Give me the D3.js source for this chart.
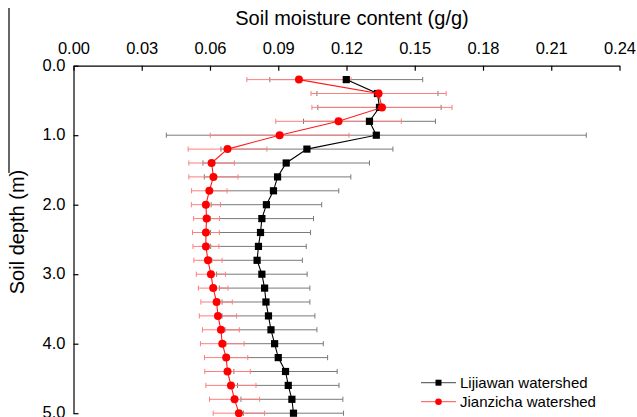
<!DOCTYPE html>
<html>
<head>
<meta charset="utf-8">
<script src="https://cdn.jsdelivr.net/npm/d3@7"></script>
<style>
  html, body { margin: 0; padding: 0; background: #fff; }
  svg { display: block; font-family: Arial, "Liberation Sans", sans-serif; }
</style>
</head>
<body>
<svg id="chart" width="637" height="417"></svg>
<script>
// ---- data ----
const depths = [0.2,0.4,0.6,0.8,1.0,1.2,1.4,1.6,1.8,2.0,2.2,2.4,2.6,2.8,3.0,3.2,3.4,3.6,3.8,4.0,4.2,4.4,4.6,4.8,5.0];
const lijiawanMean = [0.1199,0.1336,0.1345,0.1301,0.1331,0.1026,0.0935,0.0897,0.0879,0.0848,0.0828,0.0822,0.0813,0.0807,0.0828,0.0840,0.0846,0.0857,0.0868,0.0884,0.0900,0.0932,0.0944,0.0960,0.0967];
const lijiawanSD   = [0.0336,0.0266,0.0271,0.0290,0.0923,0.0378,0.0366,0.0322,0.0287,0.0243,0.0227,0.0220,0.0210,0.0199,0.0199,0.0199,0.0193,0.0204,0.0202,0.0214,0.0217,0.0227,0.0223,0.0224,0.0220];
const jianzichaMean = [0.0991,0.1341,0.1356,0.1165,0.0906,0.0677,0.0607,0.0615,0.0597,0.0582,0.0585,0.0582,0.0582,0.0591,0.0604,0.0614,0.0629,0.0635,0.0648,0.0654,0.0671,0.0677,0.0692,0.0708,0.0727];
const jianzichaSD   = [0.0229,0.0297,0.0308,0.0276,0.0305,0.0173,0.0100,0.0108,0.0078,0.0064,0.0057,0.0059,0.0057,0.0062,0.0064,0.0065,0.0069,0.0082,0.0081,0.0096,0.0095,0.0100,0.0110,0.0110,0.0113];
const xTicks = [0.00,0.03,0.06,0.09,0.12,0.15,0.18,0.21,0.24];
const yTicks = [0,1,2,3,4,5];
const seriesNames = ["Lijiawan watershed","Jianzicha watershed"];

// ---- layout ----
const svg = d3.select("#chart");
const x = d3.scaleLinear().domain([0, 0.24]).range([73.5, 619.5]);
const y = d3.scaleLinear().domain([0, 5]).range([65.7, 413.2]);

const series = [
  {name: seriesNames[0], mean: lijiawanMean, sd: lijiawanSD, line: "#000", err: "#7a7a7a", marker: "square", legendLine: "#6a6a6a"},
  {name: seriesNames[1], mean: jianzichaMean, sd: jianzichaSD, line: "#ff1a1a", err: "#ff7f7f", marker: "circle", legendLine: "#ff7070"}
];
series.forEach(s => { s.data = depths.map((d, i) => ({d, m: s.mean[i], sd: s.sd[i]})); });

// stray frame line at far left
svg.append("line").attr("x1", 9).attr("x2", 9).attr("y1", 8).attr("y2", 173)
  .attr("stroke", "#000").attr("stroke-width", 1.2);

// axes
const xAxis = d3.axisTop(x).tickValues(xTicks).tickFormat(d3.format(".2f"))
  .tickSizeInner(-5).tickSizeOuter(0).tickPadding(12);
const gx = svg.append("g").attr("transform", `translate(0,${y(0)})`).call(xAxis);
gx.selectAll("text").attr("font-size", 16.5).attr("fill", "#000").attr("font-family", "Arial, 'Liberation Sans', sans-serif");
gx.select(".domain").attr("stroke", "#000").attr("stroke-width", 1.2);
gx.selectAll(".tick line").attr("stroke", "#000").attr("stroke-width", 1.2);

const yAxis = d3.axisLeft(y).tickValues(yTicks).tickFormat(d3.format(".1f"))
  .tickSizeInner(-5).tickSizeOuter(0).tickPadding(8);
const gy = svg.append("g").attr("transform", `translate(${x(0)},0)`).call(yAxis);
gy.selectAll("text").attr("font-size", 16.5).attr("fill", "#000").attr("dy", "0.28em").attr("font-family", "Arial, 'Liberation Sans', sans-serif");
gy.select(".domain").attr("stroke", "#000").attr("stroke-width", 1.2);
gy.selectAll(".tick line").attr("stroke", "#000").attr("stroke-width", 1.2);

// axis titles
svg.append("text").attr("x", 352).attr("y", 25).attr("text-anchor", "middle")
  .attr("font-size", 20).text("Soil moisture content (g/g)");
svg.append("text").attr("transform", "translate(24,232) rotate(-90)").attr("text-anchor", "middle")
  .attr("font-size", 20).text("Soil depth (m)");

// error bars
const cap = 2.6;
series.forEach(s => {
  const g = svg.append("g").attr("stroke", s.err).attr("stroke-width", 1);
  s.data.forEach(p => {
    const yy = y(p.d);
    const x0 = x(p.m - p.sd), x1 = x(p.m + p.sd);
    g.append("line").attr("x1", x0).attr("x2", x1).attr("y1", yy).attr("y2", yy);
    g.append("line").attr("x1", x0).attr("x2", x0).attr("y1", yy - cap).attr("y2", yy + cap);
    g.append("line").attr("x1", x1).attr("x2", x1).attr("y1", yy - cap).attr("y2", yy + cap);
  });
});

// lines and markers
const lineGen = d3.line().x(p => x(p.m)).y(p => y(p.d));
series.forEach(s => {
  svg.append("path").datum(s.data).attr("d", lineGen)
    .attr("fill", "none").attr("stroke", s.line).attr("stroke-width", 1.1);
  if (s.marker === "square") {
    svg.append("g").selectAll("rect").data(s.data).join("rect")
      .attr("x", p => x(p.m) - 3.6).attr("y", p => y(p.d) - 3.6)
      .attr("width", 7.2).attr("height", 7.2).attr("fill", "#000");
  } else {
    svg.append("g").selectAll("circle").data(s.data).join("circle")
      .attr("cx", p => x(p.m)).attr("cy", p => y(p.d)).attr("r", 4)
      .attr("fill", "#ff0000");
  }
});

// legend
const legend = svg.append("g");
series.forEach((s, i) => {
  const ly = 382.7 + i * 19;
  legend.append("line").attr("x1", 421).attr("x2", 456).attr("y1", ly).attr("y2", ly)
    .attr("stroke", s.legendLine).attr("stroke-width", 1.2);
  if (s.marker === "square") {
    legend.append("rect").attr("x", 438.5 - 3).attr("y", ly - 3).attr("width", 6).attr("height", 6).attr("fill", "#000");
  } else {
    legend.append("circle").attr("cx", 438.5).attr("cy", ly).attr("r", 3.3).attr("fill", "#ff0000");
  }
  legend.append("text").attr("x", 460).attr("y", ly + 5.5).attr("font-size", 15).text(s.name);
});
</script>
</body>
</html>
